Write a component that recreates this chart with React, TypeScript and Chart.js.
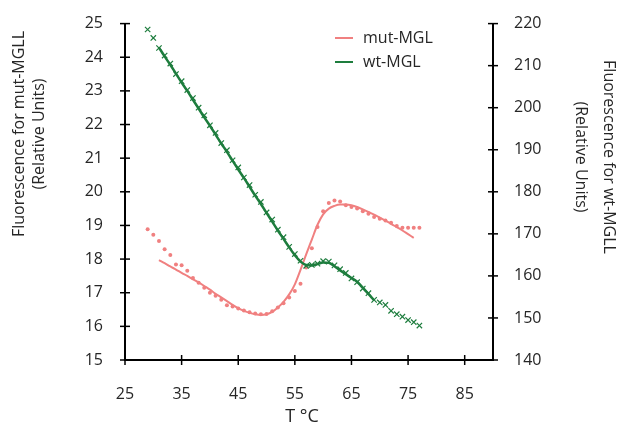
import React, { useEffect, useRef } from "react";
import { Chart, registerables } from "chart.js";
Chart.register(...registerables);

const FONT = '"Open Sans", "Liberation Sans", sans-serif';
const TEXT = "#262626";
const RED = "#F08080";
const GREEN = "#1E7D3E";

const seriesLabels = ["mut-MGL", "wt-MGL"];
const leftTitle = ["Fluorescence for mut-MGLL", "(Relative Units)"];
const rightTitle = ["Fluorescence for wt-MGLL", "(Relative Units)"];
const xTitle = "T °C";
const xTicks = [25, 35, 45, 55, 65, 75, 85];

const mutTemps = [29, 30, 31, 32, 33, 34, 35, 36, 37, 38, 39, 40, 41, 42, 43, 44, 45, 46, 47, 48, 49, 50, 51, 52, 53, 54, 55, 56, 57, 58, 59, 60, 61, 62, 63, 64, 65, 66, 67, 68, 69, 70, 71, 72, 73, 74, 75, 76, 77];
const mutPoints = [18.89, 18.72, 18.54, 18.29, 18.12, 17.84, 17.82, 17.65, 17.44, 17.30, 17.15, 17.00, 16.91, 16.79, 16.63, 16.59, 16.53, 16.47, 16.42, 16.38, 16.36, 16.37, 16.45, 16.56, 16.69, 16.86, 17.05, 17.27, 17.75, 18.32, 18.95, 19.42, 19.67, 19.74, 19.71, 19.60, 19.55, 19.50, 19.42, 19.35, 19.25, 19.20, 19.15, 19.08, 18.98, 18.93, 18.93, 18.93, 18.93];

const mutFitTemps = [31, 32, 33, 34, 35, 36, 37, 38, 39, 40, 41, 42, 43, 44, 45, 46, 47, 48, 49, 50, 51, 52, 53, 54, 55, 56, 57, 58, 59, 60, 61, 62, 63, 64, 65, 66, 67, 68, 69, 70, 71, 72, 73, 74, 75, 76];
const mutFit = [17.97, 17.88, 17.78, 17.69, 17.59, 17.50, 17.40, 17.31, 17.20, 17.09, 16.97, 16.86, 16.75, 16.64, 16.54, 16.46, 16.40, 16.36, 16.34, 16.36, 16.43, 16.56, 16.73, 16.95, 17.25, 17.68, 18.14, 18.58, 19.02, 19.33, 19.50, 19.58, 19.62, 19.62, 19.60, 19.55, 19.48, 19.40, 19.32, 19.23, 19.14, 19.05, 18.95, 18.85, 18.74, 18.63];

const wtTemps = [29, 30, 31, 32, 33, 34, 35, 36, 37, 38, 39, 40, 41, 42, 43, 44, 45, 46, 47, 48, 49, 50, 51, 52, 53, 54, 55, 56, 57, 58, 59, 60, 61, 62, 63, 64, 65, 66, 67, 68, 69, 70, 71, 72, 73, 74, 75, 76, 77];
const wtPoints = [218.6, 216.6, 214.2, 212.4, 210.5, 208.0, 206.3, 204.2, 202.3, 200.0, 198.2, 195.8, 194.0, 191.6, 189.9, 187.5, 185.8, 183.4, 181.6, 179.3, 177.6, 175.1, 173.4, 171.0, 169.2, 166.9, 165.2, 163.6, 162.4, 162.6, 162.9, 163.5, 163.4, 162.5, 161.6, 160.7, 159.4, 158.5, 157.0, 155.9, 154.3, 153.7, 153.1, 151.7, 150.9, 150.3, 149.5, 149.0, 148.2];

const wtFitTemps = [31, 32, 33, 34, 35, 36, 37, 38, 39, 40, 41, 42, 43, 44, 45, 46, 47, 48, 49, 50, 51, 52, 53, 54, 55, 56, 57, 58, 59, 60, 61, 62, 63, 64, 65, 66, 67, 68, 69];
const wtFit = [214.3, 212.2, 210.2, 208.1, 206.0, 204.0, 201.9, 199.8, 197.7, 195.7, 193.6, 191.5, 189.5, 187.4, 185.3, 183.3, 181.2, 179.1, 177.1, 175.0, 172.9, 170.8, 168.8, 166.8, 164.9, 163.4, 162.6, 162.5, 162.8, 163.2, 163.1, 162.3, 161.3, 160.4, 159.5, 158.6, 157.2, 155.7, 154.2];

const pairs = (xs: number[], ys: number[]) => xs.map((x, i) => ({ x, y: ys[i] }));

const decor = {
  id: "decor",
  afterDraw(chart: any) {
    const ctx = chart.ctx;
    const { x, y, y1 } = chart.scales;
    ctx.save();
    ctx.strokeStyle = "#000";
    ctx.lineWidth = 1.5;
    const seg = (a: number, b: number, c: number, d: number) => {
      ctx.beginPath();
      ctx.moveTo(a, b);
      ctx.lineTo(c, d);
      ctx.stroke();
    };
    xTicks.forEach((v) => {
      const px = x.getPixelForValue(v);
      seg(px, x.top - 5, px, x.top + 5);
    });
    y.ticks.forEach((t: any) => {
      const py = y.getPixelForValue(t.value);
      seg(y.right - 5, py, y.right + 5, py);
    });
    y1.ticks.forEach((t: any) => {
      const py = y1.getPixelForValue(t.value);
      seg(y1.left - 5, py, y1.left + 5, py);
    });

    // axis titles
    ctx.fillStyle = TEXT;
    ctx.font = `16px ${FONT}`;
    ctx.textAlign = "center";
    ctx.textBaseline = "middle";
    ctx.save();
    ctx.translate(0, 134);
    ctx.rotate(-Math.PI / 2);
    ctx.fillText(leftTitle[0], 0, 19);
    ctx.fillText(leftTitle[1], 0, 39);
    ctx.restore();
    ctx.save();
    ctx.translate(0, 157);
    ctx.rotate(Math.PI / 2);
    ctx.fillText(rightTitle[0], 0, -609);
    ctx.fillText(rightTitle[1], 0, -581);
    ctx.restore();
    ctx.font = `18px ${FONT}`;
    ctx.fillText(xTitle, 302, 417);
    ctx.font = `16px ${FONT}`;

    // legend
    const items = [
      { label: chart.data.datasets[1].label, color: RED, y: 38 },
      { label: chart.data.datasets[3].label, color: GREEN, y: 62 },
    ];
    ctx.textAlign = "left";
    items.forEach((it) => {
      ctx.strokeStyle = it.color;
      ctx.lineWidth = 2;
      seg(335, it.y, 353, it.y);
      ctx.fillStyle = TEXT;
      ctx.fillText(it.label, 363, it.y);
    });
    ctx.restore();
  },
};

export default function App() {
  const ref = useRef<HTMLCanvasElement>(null);
  useEffect(() => {
    if (!ref.current) return;
    const chart = new Chart(ref.current, {
      type: "scatter",
      data: {
        datasets: [
          {
            label: seriesLabels[0] + " data",
            data: pairs(mutTemps, mutPoints),
            yAxisID: "y",
            showLine: false,
            pointStyle: "circle",
            pointRadius: 2,
            pointBackgroundColor: RED,
            pointBorderWidth: 0,
            borderColor: RED,
            order: 3,
          },
          {
            label: seriesLabels[0],
            data: pairs(mutFitTemps, mutFit),
            yAxisID: "y",
            showLine: true,
            pointRadius: 0,
            borderColor: RED,
            borderWidth: 2,
            cubicInterpolationMode: "monotone",
            order: 2,
          },
          {
            label: seriesLabels[1] + " data",
            data: pairs(wtTemps, wtPoints),
            yAxisID: "y1",
            showLine: false,
            pointStyle: "crossRot",
            pointRadius: 3.8,
            pointBorderWidth: 1.2,
            pointBorderColor: GREEN,
            borderColor: GREEN,
            order: 0,
          },
          {
            label: seriesLabels[1],
            data: pairs(wtFitTemps, wtFit),
            yAxisID: "y1",
            showLine: true,
            pointRadius: 0,
            borderColor: GREEN,
            borderWidth: 2.5,
            cubicInterpolationMode: "monotone",
            order: 1,
          },
        ],
      },
      options: {
        responsive: false,
        animation: false,
        layout: { padding: { top: 19, left: 0, right: 0, bottom: 0 } },
        plugins: { legend: { display: false }, tooltip: { enabled: false } },
        scales: {
          x: {
            type: "linear",
            min: 25,
            max: 90,
            afterBuildTicks: (s: any) => {
              s.ticks = xTicks.map((v) => ({ value: v }));
            },
            afterFit: (s: any) => {
              s.height = 68;
            },
            grid: { display: false },
            border: { display: true, color: "#000", width: 2 },
            ticks: { color: TEXT, font: { family: FONT, size: 16 }, padding: 17, maxRotation: 0 },
          },
          y: {
            position: "left",
            min: 15,
            max: 25,
            afterFit: (s: any) => {
              s.width = 125;
            },
            grid: { display: false },
            border: { display: true, color: "#000", width: 2 },
            ticks: { stepSize: 1, color: TEXT, font: { family: FONT, size: 16 }, padding: 14 },
          },
          y1: {
            position: "right",
            min: 140,
            max: 220,
            afterFit: (s: any) => {
              s.width = 125;
            },
            grid: { display: false },
            border: { display: true, color: "#000", width: 2 },
            ticks: { stepSize: 10, color: TEXT, font: { family: FONT, size: 16 }, padding: 13 },
          },
        },
      },
      plugins: [decor],
    } as any);
    return () => chart.destroy();
  }, []);
  return (
    <div style={{ position: "absolute", left: 0, top: 0, width: 618, height: 428, background: "#fff" }}>
      <canvas ref={ref} width={618} height={428} style={{ display: "block" }} />
    </div>
  );
}
